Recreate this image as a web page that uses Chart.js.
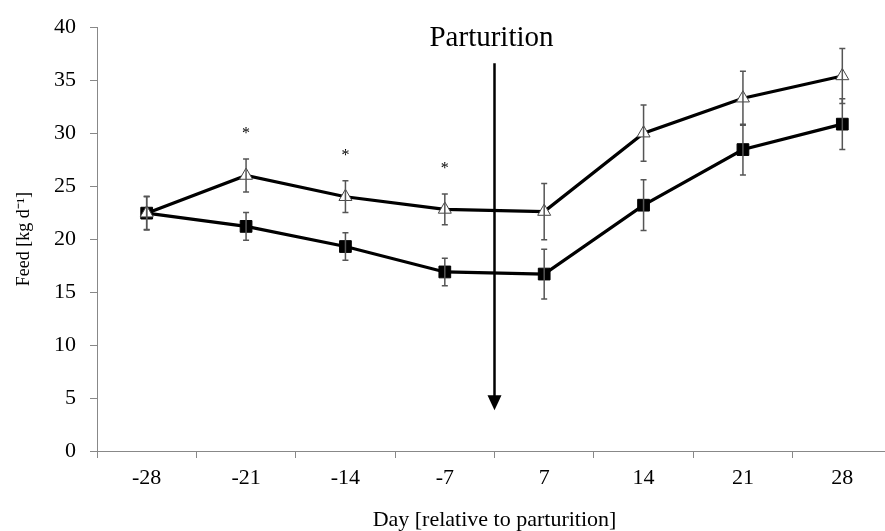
<!DOCTYPE html>
<html>
<head>
<meta charset="utf-8">
<script src="https://cdn.jsdelivr.net/npm/chart.js@4.4.1/dist/chart.umd.min.js"></script>
<style>
  html, body { margin: 0; padding: 0; background: #fff; overflow: hidden; width: 885px; height: 531px; }
  #wrap { width: 885px; height: 531px; overflow: hidden; position: relative; }
  #c { position: absolute; left: 0; top: 0; width: 893px; height: 531px; }
</style>
</head>
<body>
<div id="wrap"><canvas id="c" width="893" height="531"></canvas></div>
<script>
// ---- data ----
const days = ['-28', '-21', '-14', '-7', '7', '14', '21', '28'];
const feedOpen = [22.45, 26.0, 24.0, 22.8, 22.6, 30.0, 33.3, 35.4];     // open triangles
const errOpen  = [1.55, 1.55, 1.5, 1.45, 2.65, 2.65, 2.55, 2.6];
const feedFilled = [22.45, 21.2, 19.3, 16.9, 16.7, 23.2, 28.45, 30.85]; // filled squares
const errFilled  = [1.6, 1.3, 1.3, 1.3, 2.35, 2.4, 2.4, 2.4];
const significant = [false, true, true, true, false, false, false, false];
const yTicks = [0, 5, 10, 15, 20, 25, 30, 35, 40];
const arrowLabel = 'Parturition';
const arrowTop = 36.6;
const arrowTip = 3.85;

const SERIF = '"Liberation Serif", "Times New Roman", serif';

const errorBarPlugin = {
  id: 'errorBars',
  afterDatasetsDraw(chart) {
    const ctx = chart.ctx;
    const x = chart.scales.x, y = chart.scales.y;
    const sets = [[feedFilled, errFilled], [feedOpen, errOpen]];
    ctx.save();
    ctx.strokeStyle = '#555';
    ctx.lineWidth = 1.5;
    sets.forEach(([vals, errs]) => {
      vals.forEach((v, i) => {
        const px = x.getPixelForValue(i);
        const top = y.getPixelForValue(v + errs[i]);
        const bot = y.getPixelForValue(v - errs[i]);
        ctx.beginPath();
        ctx.moveTo(px, top); ctx.lineTo(px, bot);
        ctx.moveTo(px - 3, top); ctx.lineTo(px + 3, top);
        ctx.moveTo(px - 3, bot); ctx.lineTo(px + 3, bot);
        ctx.stroke();
      });
    });
    // significance asterisks
    ctx.fillStyle = '#000';
    ctx.font = '16px ' + SERIF;
    ctx.textAlign = 'center';
    ctx.textBaseline = 'middle';
    significant.forEach((s, i) => {
      if (!s) return;
      const px = x.getPixelForValue(i);
      const top = y.getPixelForValue(feedOpen[i] + errOpen[i]);
      ctx.fillText('*', px, top - 25);
    });
    ctx.restore();
  },
  afterDraw(chart) {
    const ctx = chart.ctx;
    const x = chart.scales.x, y = chart.scales.y;
    const ax = x.getPixelForValue(3.5);
    const yTop = y.getPixelForValue(arrowTop);
    const yTip = y.getPixelForValue(arrowTip);
    ctx.save();
    ctx.strokeStyle = '#000';
    ctx.fillStyle = '#000';
    ctx.lineWidth = 2.5;
    ctx.beginPath();
    ctx.moveTo(ax, yTop);
    ctx.lineTo(ax, yTip - 12);
    ctx.stroke();
    ctx.beginPath();
    ctx.moveTo(ax - 7, yTip - 15);
    ctx.lineTo(ax + 7, yTip - 15);
    ctx.lineTo(ax, yTip);
    ctx.closePath();
    ctx.fill();
    ctx.font = '29px ' + SERIF;
    ctx.textAlign = 'center';
    ctx.textBaseline = 'alphabetic';
    ctx.fillText(arrowLabel, ax - 3, yTop - 17.5);
    ctx.restore();
  }
};

new Chart(document.getElementById('c'), {
  type: 'line',
  data: {
    labels: days,
    datasets: [
      {
        label: 'open',
        data: feedOpen,
        borderColor: '#000',
        borderWidth: 3.2,
        tension: 0,
        pointStyle: 'triangle',
        pointRadius: 7.5,
        pointBackgroundColor: '#fff',
        pointBorderColor: '#444',
        pointBorderWidth: 1,
        order: 1
      },
      {
        label: 'filled',
        data: feedFilled,
        borderColor: '#000',
        borderWidth: 3.2,
        tension: 0,
        pointStyle: 'rect',
        pointRadius: 8.3,
        pointBackgroundColor: '#000',
        pointBorderColor: '#000',
        pointBorderWidth: 1,
        order: 2
      }
    ]
  },
  options: {
    responsive: false,
    animation: false,
    devicePixelRatio: 1,
    layout: { autoPadding: false, padding: { top: 23, right: 1, bottom: 0, left: 0 } },
    plugins: { legend: { display: false }, tooltip: { enabled: false } },
    scales: {
      x: {
        type: 'category',
        offset: true,
        border: { color: '#888', width: 1 },
        grid: { offset: true, drawOnChartArea: false, drawTicks: true, tickLength: 7, color: '#888' },
        ticks: { color: '#000', padding: 7, font: { family: SERIF, size: 22 } },
        title: {
          display: true,
          text: 'Day [relative to parturition]',
          color: '#000',
          font: { family: SERIF, size: 22, lineHeight: 1 },
          padding: { top: 4, bottom: 0 }
        },
        afterFit(scale) { scale.height = 80; }
      },
      y: {
        min: 0,
        max: 40,
        border: { color: '#888', width: 1 },
        grid: { drawOnChartArea: false, drawTicks: true, tickLength: 7, color: '#888' },
        afterBuildTicks(scale) { scale.ticks = yTicks.map(v => ({ value: v })); },
        ticks: { color: '#000', padding: 14, font: { family: SERIF, size: 22 } },
        title: {
          display: true,
          text: 'Feed [kg d\u207B\u00B9]',
          color: '#000',
          font: { family: SERIF, size: 18 },
          padding: { top: 13, bottom: 0 }
        },
        afterFit(scale) { scale.width = 97; }
      }
    }
  },
  plugins: [errorBarPlugin]
});
</script>
</body>
</html>
